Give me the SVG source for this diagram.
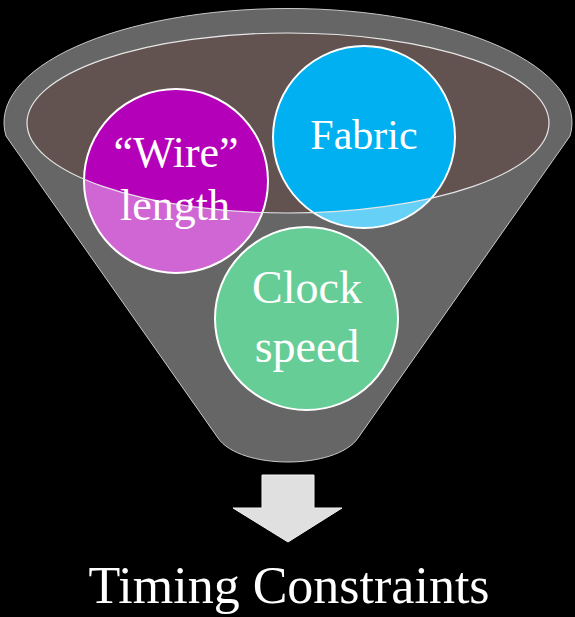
<svg xmlns="http://www.w3.org/2000/svg" width="575" height="617" viewBox="0 0 575 617">
  <style>
    .lbl { font-family: "Liberation Serif", "DejaVu Serif", serif; fill: #ffffff; text-anchor: middle; }
    .ring { stroke: #ffffff; stroke-width: 2; }
  </style>
  <defs>
    <clipPath id="bowl">
      <ellipse cx="288" cy="123" rx="261" ry="90"/>
    </clipPath>
  </defs>
  <rect width="575" height="617" fill="#000000"/>

  <!-- funnel body and rim -->
  <g id="funnel">
    <path d="M 6,136 A 284,114 0 1 1 570,136 L 358,438 C 336,470 240,470 218,438 Z" fill="#666666" stroke="#c8c8c8" stroke-width="1"/>
    <ellipse cx="288" cy="123" rx="261" ry="90" fill="#625350"/>
  </g>

  <!-- inputs: lighter tint below the rim, full colour inside it -->
  <g id="wire-length">
    <circle cx="176" cy="181" r="92" fill="#d066d4"/>
    <circle cx="176" cy="181" r="92" fill="#b400b9" clip-path="url(#bowl)"/>
    <circle cx="176" cy="181" r="92" fill="none" class="ring"/>
  </g>
  <g id="fabric">
    <circle cx="364" cy="137" r="91" fill="#66d0f6"/>
    <circle cx="364" cy="137" r="91" fill="#00b0f0" clip-path="url(#bowl)"/>
    <circle cx="364" cy="137" r="91" fill="none" class="ring"/>
  </g>
  <g id="clock-speed">
    <circle cx="306.5" cy="318.5" r="91.5" fill="#66cd96" class="ring"/>
  </g>

  <!-- rim outline drawn over the circles -->
  <ellipse cx="288" cy="123" rx="261" ry="90" fill="none" stroke="#e6e6e6" stroke-width="1.2"/>

  <g id="labels">
    <text class="lbl" x="176" y="167" font-size="44">“Wire”</text>
    <text class="lbl" x="175" y="220" font-size="44">length</text>
    <text class="lbl" x="364" y="149" font-size="42">Fabric</text>
    <text class="lbl" x="307" y="303" font-size="46">Clock</text>
    <text class="lbl" x="307" y="362" font-size="46">speed</text>
  </g>

  <!-- output arrow -->
  <g id="connectors">
    <path d="M 262,475 L 314,475 L 314,508 L 342,508 L 288,542 L 233,508 L 262,508 Z" fill="#e0e0e0" stroke="#f2f2f2" stroke-width="1"/>
  </g>

  <g id="result">
    <text class="lbl" x="289" y="603" font-size="52">Timing Constraints</text>
  </g>
</svg>
